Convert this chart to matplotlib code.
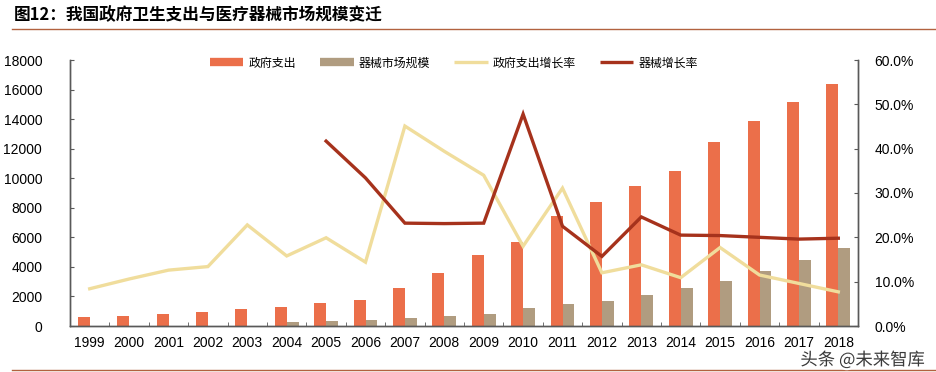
import numpy as np
import matplotlib
matplotlib.use("Agg")
import matplotlib.pyplot as plt
from matplotlib.lines import Line2D
from matplotlib.ticker import FuncFormatter, FixedLocator
import matplotlib.patheffects as pe

plt.rcParams['font.family'] = ['Liberation Sans', 'Noto Sans CJK SC', 'DejaVu Sans']

years = [str(y) for y in range(1999, 2019)]
gov_spend = [610, 700, 790, 930, 1130, 1290, 1550, 1780, 2600, 3590,
             4830, 5700, 7450, 8400, 9480, 10500, 12440, 13880, 15190, 16390]
device_market = [np.nan, np.nan, np.nan, np.nan, np.nan, 250, 340, 430, 520, 660,
                 790, 1200, 1470, 1700, 2120, 2550, 3070, 3700, 4450, 5260]
gov_growth = [8.4, 10.6, 12.6, 13.4, 22.8, 15.8, 19.9, 14.4, 45.1, 39.4,
              34.0, 18.0, 31.1, 12.0, 13.8, 10.9, 17.7, 11.5, 9.6, 7.7]
device_growth = [np.nan, np.nan, np.nan, np.nan, np.nan, np.nan, 41.7, 33.4, 23.2, 23.1,
                 23.2, 47.8, 22.5, 15.7, 24.6, 20.5, 20.4, 20.0, 19.6, 19.8]

labels = ['政府支出', '器械市场规模', '政府支出增长率', '器械增长率']
c_gov = '#EB6F4A'
c_dev = '#B09C80'
c_gg = '#F0DD9C'
c_dg = '#A6321C'
axis_c = '#595959'

fig = plt.figure(figsize=(9.36, 3.72), dpi=100)
ax = fig.add_axes([70/936, 1-326/372, (858-70)/936, (326-60)/372])
ax2 = ax.twinx()

x = np.arange(len(years))
w = 0.3
ax.bar(x - w/2, gov_spend, width=w, color=c_gov, zorder=2)
ax.bar(x + w/2, device_market, width=w, color=c_dev, zorder=2)

ax2.plot(x, gov_growth, color=c_gg, lw=2.4, solid_joinstyle='miter')
ax2.plot(x, device_growth, color=c_dg, lw=2.4, solid_joinstyle='miter')

ax.set_xlim(-0.5, len(years) - 0.5)
ax.set_ylim(0, 18000)
ax.set_yticks(np.arange(0, 18001, 2000))
ax2.set_ylim(0, 60)
ax2.set_yticks(np.arange(0, 61, 10))
ax2.yaxis.set_major_formatter(FuncFormatter(lambda v, p: f'{v:.1f}%'))

ax.set_xticks(x)
ax.set_xticklabels(years)
ax.xaxis.set_minor_locator(FixedLocator(np.arange(0.5, len(years) - 1, 1.0)))
ax.tick_params(axis='x', which='major', length=0, pad=7, labelsize=10, colors='black')
ax.tick_params(axis='x', which='minor', length=3, direction='in', color=axis_c)
ax.tick_params(axis='y', length=3, direction='in', color=axis_c, labelsize=10, pad=20)
ax2.tick_params(axis='y', length=3, direction='in', color=axis_c, labelsize=10, pad=12)

for a in (ax, ax2):
    a.spines['top'].set_visible(False)
    for s in ('left', 'right', 'bottom'):
        a.spines[s].set_color(axis_c)
        a.spines[s].set_linewidth(1.0)

handles = [Line2D([0], [0], color=c_gov, lw=6, solid_capstyle='butt'),
           Line2D([0], [0], color=c_dev, lw=6, solid_capstyle='butt'),
           Line2D([0], [0], color=c_gg, lw=2.4, solid_capstyle='butt'),
           Line2D([0], [0], color=c_dg, lw=2.4, solid_capstyle='butt')]
fig.legend(handles, labels, ncol=4, frameon=False, loc='center',
           bbox_to_anchor=(454/936, 1-63/372),
           handlelength=2.8, handletextpad=0.45, columnspacing=2.0,
           prop={'family': ['Noto Sans CJK SC'], 'size': 8.6})

fig.text(14/936, 1-15/372, '图12：我国政府卫生支出与医疗器械市场规模变迁',
         fontsize=12, fontweight='bold', va='center', ha='left',
         family=['Noto Sans CJK SC', 'DejaVu Sans'])
line_c = '#B2623F'
fig.add_artist(Line2D([12/936, 1.0], [1-29/372, 1-29/372], color=line_c, lw=1.0))
fig.add_artist(Line2D([12/936, 1.0], [1-370/372, 1-370/372], color=line_c, lw=1.0))

fig.text(925/936, 1-360/372, '头条 @未来智库', fontsize=12.5, color='#3a3a3a',
         ha='right', va='center', family=['Noto Sans CJK SC', 'DejaVu Sans'],
         path_effects=[pe.withStroke(linewidth=3, foreground='white')])

fig.savefig('out.png', dpi=100)
